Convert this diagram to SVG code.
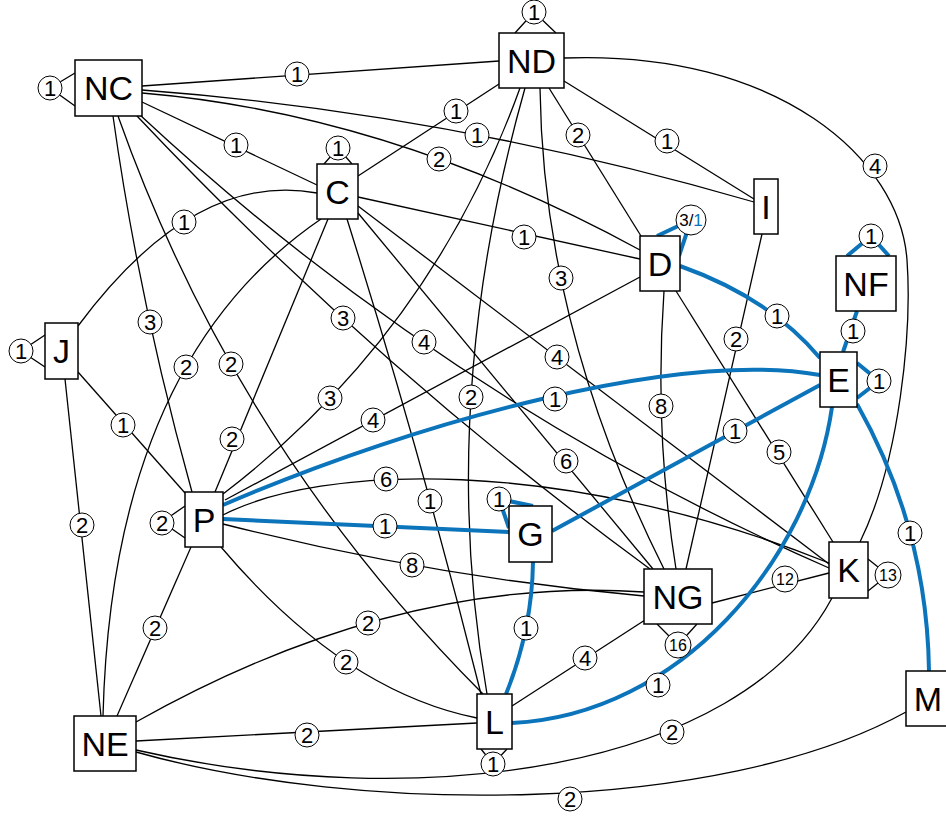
<svg xmlns="http://www.w3.org/2000/svg" width="946" height="819" viewBox="0 0 946 819">
<style>
.e{fill:none;stroke:#000;stroke-width:1.3}
.b{fill:none;stroke:#0b74ba;stroke-width:4}
.n rect{fill:#fff;stroke:#000;stroke-width:1.5}
.n text{font-family:"Liberation Sans",Arial,sans-serif;font-size:34px;text-anchor:middle;fill:#000}
.l circle{fill:#fff;stroke:#000;stroke-width:1}
.l text{font-family:"Liberation Sans",Arial,sans-serif;font-size:22px;text-anchor:middle;fill:#000}
.l text.s{font-size:16px}
</style>
<rect width="946" height="819" fill="#fff"/>
<g id="connectors">
<path class="e" d="M142,86 L499,61"/>
<path class="e" d="M142,102 L317,185"/>
<path class="e" d="M142,90 Q448,113 754,202"/>
<path class="e" d="M142,93 Q391,114 640,250"/>
<path class="e" d="M499,84 L358,176"/>
<path class="e" d="M564,81 L754,199"/>
<path class="e" d="M549,88 L641,236"/>
<path class="e" d="M564,58 C780,50 900,160 907,260 C912,330 900,460 860,542"/>
<path class="e" d="M520,88 Q431,335 223,494"/>
<path class="e" d="M525,88 Q436,403 487,694"/>
<path class="e" d="M540,88 Q543,328 664,569"/>
<path class="e" d="M113,116 Q139,302 192,492"/>
<path class="e" d="M118,116 Q235,446 483,694"/>
<path class="e" d="M137,116 Q373,366 650,569"/>
<path class="e" d="M140,115 Q446,400 829,568"/>
<path class="e" d="M358,197 L640,259"/>
<path class="e" d="M328,219 L215,492"/>
<path class="e" d="M321,219 Q112,362 103,716"/>
<path class="e" d="M347,219 Q422,458 481,694"/>
<path class="e" d="M358,213 L653,569"/>
<path class="e" d="M358,206 L829,564"/>
<path class="e" d="M78,326 Q194,170 317,193"/>
<path class="e" d="M78,372 L185,493"/>
<path class="e" d="M65,379 L101,716"/>
<path class="e" d="M191,547 L117,716"/>
<path class="e" d="M221,547 Q343,691 477,718"/>
<path class="e" d="M223,524 Q432,577 644,596"/>
<path class="e" d="M223,515 C320,465 560,455 829,563"/>
<path class="e" d="M136,722 Q397,575 644,592"/>
<path class="e" d="M136,741 L477,723"/>
<path class="e" d="M136,750 C420,815 740,770 832,598"/>
<path class="e" d="M136,752 C360,815 720,815 906,712"/>
<path class="e" d="M512,706 L645,620"/>
<path class="e" d="M712,603 L829,573"/>
<path class="e" d="M640,277 L225,500"/>
<path class="e" d="M664,291 Q654,432 676,569"/>
<path class="e" d="M676,291 L833,542"/>
<path class="e" d="M762,234 L686,569"/>
<path class="e" d="M75,73 L50,88 L75,106"/>
<path class="e" d="M515,33 L534,12 L556,33"/>
<path class="e" d="M324,164 L338,148 L352,164"/>
<path class="e" d="M45,335 L21,351 L45,367"/>
<path class="e" d="M185,506 L162,522 L185,538"/>
<path class="e" d="M868,559 L888,575 L868,591"/>
<path class="e" d="M657,624 L678,645 L697,624"/>
<path class="e" d="M481,749 L493,764 L507,749"/>
<path class="b" d="M680,266 Q770,298 820,358"/>
<path class="b" d="M223,505 C420,420 680,350 820,375"/>
<path class="b" d="M223,519 L509,532"/>
<path class="b" d="M552,531 L820,385"/>
<path class="b" d="M533,562 Q532,630 506,694"/>
<path class="b" d="M843,352 L857,311"/>
<path class="b" d="M857,404 Q927,528 929,671"/>
<path class="b" d="M512,723 C680,715 810,560 832,407"/>
<path class="b" d="M657,236 L691,220 L679,256"/>
<path class="b" d="M533,506 L499,499 L509,528"/>
<path class="b" d="M847,256 L871,236 L889,256"/>
<path class="b" d="M857,363 L879,381 L857,398"/>
</g>
<g id="labels" class="l">
<circle cx="50" cy="88" r="12"/><text x="50" y="96">1</text>
<circle cx="534" cy="12" r="12"/><text x="534" y="20">1</text>
<circle cx="338" cy="148" r="12"/><text x="338" y="156">1</text>
<circle cx="21" cy="351" r="12"/><text x="21" y="359">1</text>
<circle cx="162" cy="523" r="12"/><text x="162" y="531">2</text>
<circle cx="499" cy="499" r="12"/><text x="499" y="507">1</text>
<circle cx="691" cy="220" r="15"/><text x="691" y="226" style="font-size:17px">3/<tspan fill="#0b74ba">1</tspan></text>
<circle cx="871" cy="236" r="12"/><text x="871" y="244">1</text>
<circle cx="879" cy="381" r="12"/><text x="879" y="389">1</text>
<circle cx="888" cy="575" r="13"/><text class="s" x="888" y="581">13</text>
<circle cx="678" cy="645" r="13"/><text class="s" x="678" y="651">16</text>
<circle cx="493" cy="764" r="12"/><text x="493" y="772">1</text>
<circle cx="297" cy="74" r="12"/><text x="297" y="82">1</text>
<circle cx="236" cy="145" r="12"/><text x="236" y="153">1</text>
<circle cx="477" cy="135" r="12"/><text x="477" y="143">1</text>
<circle cx="439" cy="159" r="12"/><text x="439" y="167">2</text>
<circle cx="456" cy="111" r="12"/><text x="456" y="119">1</text>
<circle cx="667" cy="141" r="12"/><text x="667" y="149">1</text>
<circle cx="578" cy="135" r="12"/><text x="578" y="143">2</text>
<circle cx="875" cy="166" r="12"/><text x="875" y="174">4</text>
<circle cx="330" cy="398" r="12"/><text x="330" y="406">3</text>
<circle cx="471" cy="397" r="12"/><text x="471" y="405">2</text>
<circle cx="561" cy="278" r="12"/><text x="561" y="286">3</text>
<circle cx="150" cy="322" r="12"/><text x="150" y="330">3</text>
<circle cx="231" cy="364" r="12"/><text x="231" y="372">2</text>
<circle cx="343" cy="318" r="12"/><text x="343" y="326">3</text>
<circle cx="424" cy="342" r="12"/><text x="424" y="350">4</text>
<circle cx="524" cy="237" r="12"/><text x="524" y="245">1</text>
<circle cx="232" cy="439" r="12"/><text x="232" y="447">2</text>
<circle cx="186" cy="367" r="12"/><text x="186" y="375">2</text>
<circle cx="430" cy="501" r="12"/><text x="430" y="509">1</text>
<circle cx="566" cy="461" r="12"/><text x="566" y="469">6</text>
<circle cx="557" cy="357" r="12"/><text x="557" y="365">4</text>
<circle cx="184" cy="222" r="12"/><text x="184" y="230">1</text>
<circle cx="123" cy="425" r="12"/><text x="123" y="433">1</text>
<circle cx="82" cy="525" r="12"/><text x="82" y="533">2</text>
<circle cx="155" cy="628" r="12"/><text x="155" y="636">2</text>
<circle cx="346" cy="662" r="12"/><text x="346" y="670">2</text>
<circle cx="412" cy="565" r="12"/><text x="412" y="573">8</text>
<circle cx="386" cy="479" r="12"/><text x="386" y="487">6</text>
<circle cx="368" cy="623" r="12"/><text x="368" y="631">2</text>
<circle cx="307" cy="735" r="12"/><text x="307" y="743">2</text>
<circle cx="672" cy="732" r="12"/><text x="672" y="740">2</text>
<circle cx="570" cy="799" r="12"/><text x="570" y="807">2</text>
<circle cx="585" cy="658" r="12"/><text x="585" y="666">4</text>
<circle cx="785" cy="579" r="13"/><text class="s" x="785" y="585">12</text>
<circle cx="373" cy="420" r="12"/><text x="373" y="428">4</text>
<circle cx="661" cy="406" r="12"/><text x="661" y="414">8</text>
<circle cx="779" cy="452" r="12"/><text x="779" y="460">5</text>
<circle cx="736" cy="339" r="12"/><text x="736" y="347">2</text>
<circle cx="777" cy="316" r="12"/><text x="777" y="324">1</text>
<circle cx="555" cy="399" r="12"/><text x="555" y="407">1</text>
<circle cx="385" cy="526" r="12"/><text x="385" y="534">1</text>
<circle cx="735" cy="431" r="12"/><text x="735" y="439">1</text>
<circle cx="526" cy="628" r="12"/><text x="526" y="636">1</text>
<circle cx="853" cy="331" r="12"/><text x="853" y="339">1</text>
<circle cx="910" cy="533" r="12"/><text x="910" y="541">1</text>
<circle cx="658" cy="685" r="12"/><text x="658" y="693">1</text>
</g>
<g id="node-NC" class="n"><rect x="75" y="60" width="67" height="56"/><text x="108.5" y="100">NC</text></g>
<g id="node-ND" class="n"><rect x="499" y="33" width="65" height="55"/><text x="531.5" y="72.5">ND</text></g>
<g id="node-C" class="n"><rect x="317" y="164" width="41" height="55"/><text x="337.5" y="203.5">C</text></g>
<g id="node-I" class="n"><rect x="754" y="179" width="24" height="55"/><text x="766" y="218.5">I</text></g>
<g id="node-D" class="n"><rect x="640" y="236" width="40" height="55"/><text x="660" y="275.5">D</text></g>
<g id="node-NF" class="n"><rect x="836" y="256" width="60" height="55"/><text x="866" y="295.5">NF</text></g>
<g id="node-E" class="n"><rect x="820" y="352" width="37" height="55"/><text x="838.5" y="391.5">E</text></g>
<g id="node-J" class="n"><rect x="45" y="323" width="33" height="56"/><text x="61.5" y="363">J</text></g>
<g id="node-P" class="n"><rect x="185" y="492" width="38" height="55"/><text x="204" y="531.5">P</text></g>
<g id="node-G" class="n"><rect x="509" y="506" width="43" height="56"/><text x="530.5" y="546">G</text></g>
<g id="node-NG" class="n"><rect x="644" y="569" width="68" height="55"/><text x="678" y="608.5">NG</text></g>
<g id="node-K" class="n"><rect x="829" y="542" width="39" height="56"/><text x="848.5" y="582">K</text></g>
<g id="node-M" class="n"><rect x="906" y="671" width="44" height="55"/><text x="928" y="710.5">M</text></g>
<g id="node-L" class="n"><rect x="477" y="694" width="35" height="55"/><text x="494.5" y="733.5">L</text></g>
<g id="node-NE" class="n"><rect x="74" y="716" width="62" height="55"/><text x="105" y="755.5">NE</text></g>
</svg>
